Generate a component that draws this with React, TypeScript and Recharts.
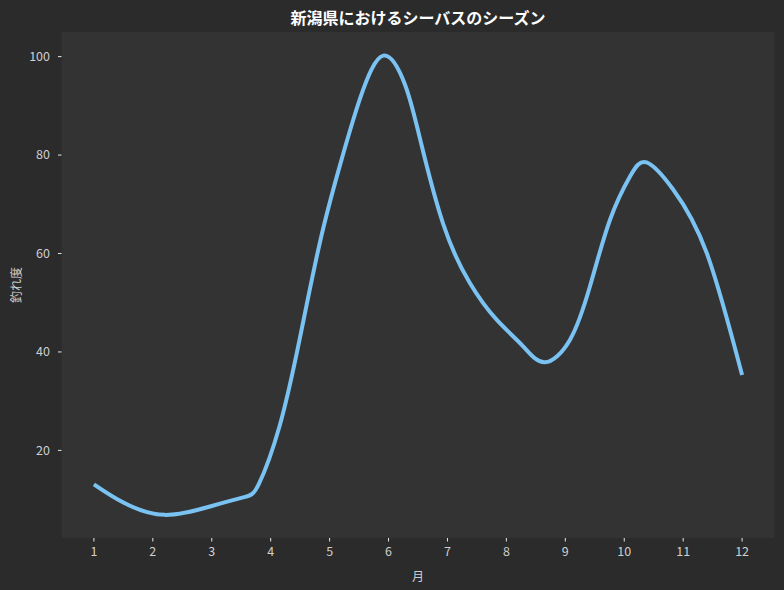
import { LineChart, Line, XAxis, YAxis, CartesianGrid, Label } from "recharts";

// months (x) and catch index (y)
const months = [
    1.0, 1.5, 2.2, 3.0, 3.55, 3.8, 4.15, 4.49, 4.84, 5.18, 5.52, 5.91, 6.28, 6.53, 6.93,
    7.38, 7.83, 8.28, 8.65, 9.08, 9.42, 9.76, 10.1, 10.38, 10.83, 11.4, 12.0,
];
const catchIndex = [
    13.1, 9.4, 6.9, 8.7, 10.5, 13.2, 24.9, 42.5, 62.5, 78.1, 91.6, 100.2, 94.3, 83.5, 65.9,
    54.0, 46.6, 41.2, 37.9, 42.5, 53.4, 66.9, 75.7, 78.5, 73.0, 60.1, 35.3,
];
const monthTicks = [1, 2, 3, 4, 5, 6, 7, 8, 9, 10, 11, 12];
const levelTicks = [20, 40, 60, 80, 100];

const title = "新潟県におけるシーバスのシーズン";
const font = "'Noto Sans CJK JP', 'Noto Sans', sans-serif";

export default function App() {
    const chartData = months.map((m, i) => ({ month: m, level: catchIndex[i] }));

    return (
        <div style={{ position: "absolute", left: 0, top: 0, width: 784, height: 590, background: "#2b2b2b", fontFamily: font }}>
            <div style={{ position: "absolute", left: 61, width: 714, top: 5, textAlign: "center", color: "#ffffff", fontWeight: 700, fontSize: 16 }}>
                {title}
            </div>
            <LineChart width={784} height={590} data={chartData} margin={{ top: 32, right: 9.5, bottom: 0, left: 0 }}>
                <CartesianGrid fill="#333333" horizontal={false} vertical={false} />
                <XAxis
                    dataKey="month"
                    type="number"
                    domain={[0.45, 12.55]}
                    ticks={monthTicks}
                    allowDataOverflow
                    height={52}
                    axisLine={false}
                    tickLine={{ stroke: "#e8e8e8" }}
                    tickSize={3.5}
                    tickMargin={6}
                    tick={{ fill: "#cfcfcf", fontSize: 12.5, fontFamily: font }}
                >
                    <Label value="月" position="insideBottom" offset={9} fill="#cfcfcf" fontSize={12} fontFamily={font} />
                </XAxis>
                <YAxis
                    type="number"
                    domain={[2.2, 105.0]}
                    ticks={levelTicks}
                    allowDataOverflow
                    width={61.5}
                    axisLine={false}
                    tickLine={{ stroke: "#e8e8e8" }}
                    tickSize={3.5}
                    tickMargin={8}
                    tick={{ fill: "#cfcfcf", fontSize: 12.5, fontFamily: font }}
                >
                    <Label value="釣れ度" angle={-90} position="insideLeft" offset={17} fill="#cfcfcf" fontSize={12} fontFamily={font} style={{ textAnchor: "middle" }} />
                </YAxis>
                <Line
                    type="natural"
                    dataKey="level"
                    stroke="#79c2f2"
                    strokeWidth={4}
                    dot={false}
                    activeDot={false}
                    isAnimationActive={false}
                />
            </LineChart>
        </div>
    );
}
